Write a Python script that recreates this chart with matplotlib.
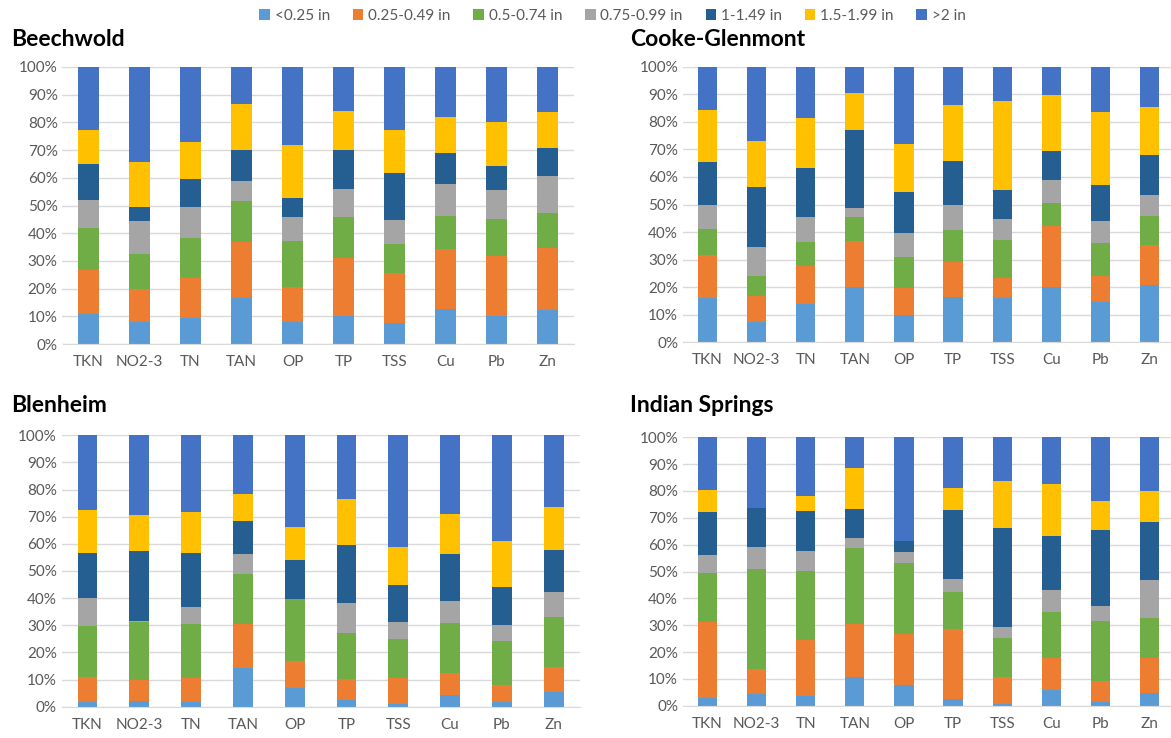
import numpy as np
import matplotlib
matplotlib.use('Agg')
import matplotlib.pyplot as plt
from matplotlib.ticker import PercentFormatter

plt.rcParams['font.family'] = ['Lato', 'DejaVu Sans']

params = ['TKN', 'NO2-3', 'TN', 'TAN', 'OP', 'TP', 'TSS', 'Cu', 'Pb', 'Zn']
bins = ['<0.25 in', '0.25-0.49 in', '0.5-0.74 in', '0.75-0.99 in',
        '1-1.49 in', '1.5-1.99 in', '>2 in']
colors = ['#5B9BD5', '#ED7D31', '#70AD47', '#A5A5A5', '#255E91', '#FFC000', '#4472C4']

# percent of load per rainfall bin, one row per parameter
beechwold = [
    [10.8, 15.8, 15.3, 10.2, 13.0, 12.1, 22.8],
    [8.0, 11.8, 12.6, 12.1, 5.0, 16.3, 34.2],
    [9.5, 14.5, 14.4, 10.9, 10.4, 13.3, 27.0],
    [16.7, 20.2, 14.8, 7.2, 11.1, 16.7, 13.3],
    [8.0, 12.6, 16.7, 8.7, 6.8, 19.1, 28.1],
    [10.0, 21.2, 14.8, 9.8, 14.2, 14.0, 16.0],
    [7.7, 17.8, 10.6, 8.8, 17.0, 15.3, 22.8],
    [12.5, 21.7, 12.1, 11.4, 11.1, 13.3, 17.9],
    [10.2, 21.7, 13.4, 10.2, 8.7, 16.0, 19.8],
    [12.2, 22.5, 12.5, 13.5, 10.0, 13.0, 16.3],
]
cooke_glenmont = [
    [16.1, 15.5, 9.5, 8.7, 15.7, 18.8, 15.7],
    [7.4, 9.5, 7.3, 10.3, 21.8, 16.8, 26.9],
    [13.9, 13.8, 8.7, 9.2, 17.5, 18.2, 18.7],
    [20.1, 16.8, 8.7, 3.3, 28.1, 13.4, 9.6],
    [9.8, 10.0, 11.2, 8.8, 14.6, 17.6, 28.0],
    [16.4, 12.6, 11.8, 8.9, 16.1, 20.3, 13.9],
    [15.9, 7.5, 13.6, 7.6, 10.7, 32.3, 12.4],
    [19.9, 22.3, 8.5, 8.1, 10.6, 20.2, 10.4],
    [14.8, 9.2, 12.2, 7.8, 13.0, 26.5, 16.5],
    [20.8, 14.6, 10.3, 7.6, 14.8, 17.4, 14.5],
]
blenheim = [
    [1.7, 9.4, 18.6, 10.5, 16.3, 16.0, 27.5],
    [2.1, 7.7, 21.4, 0.3, 25.7, 13.4, 29.4],
    [1.7, 8.9, 19.9, 6.2, 19.8, 15.1, 28.4],
    [14.3, 16.2, 18.3, 7.3, 12.5, 9.7, 21.7],
    [6.8, 10.2, 22.5, 0.3, 14.4, 12.1, 33.7],
    [2.3, 7.9, 17.1, 10.8, 21.5, 17.1, 23.3],
    [0.9, 9.7, 14.5, 6.1, 13.6, 14.0, 41.2],
    [4.4, 8.1, 18.3, 8.1, 17.2, 14.8, 29.1],
    [1.6, 6.4, 16.2, 5.9, 14.0, 17.1, 38.8],
    [5.3, 9.3, 18.4, 9.1, 15.5, 16.0, 26.4],
]
indian_springs = [
    [2.7, 28.5, 18.4, 6.7, 15.7, 8.2, 19.8],
    [4.5, 9.0, 37.3, 8.3, 14.6, 0.0, 26.3],
    [3.6, 20.9, 25.6, 7.4, 15.0, 5.5, 22.0],
    [10.8, 19.5, 28.5, 3.8, 10.7, 15.3, 11.4],
    [7.8, 19.0, 26.4, 3.9, 4.3, 0.0, 38.6],
    [2.6, 25.8, 13.8, 5.0, 25.7, 8.3, 18.8],
    [0.7, 9.9, 14.6, 4.3, 36.6, 17.8, 16.1],
    [5.7, 12.0, 17.3, 8.0, 20.4, 19.3, 17.3],
    [1.5, 7.8, 22.2, 5.5, 28.4, 10.9, 23.7],
    [4.7, 13.0, 14.9, 14.2, 21.7, 11.5, 20.0],
]

W, H = 1171, 738
fig = plt.figure(figsize=(W / 100, H / 100), dpi=100)

# pixel boxes: left, right, y of 0%, y of 100%
panels = [
    ('Beechwold', beechwold, (62.5, 573.5, 344, 67), (11, 40), 0.41),
    ('Cooke-Glenmont', cooke_glenmont, (683, 1171, 342.3, 66.7), (630, 40), 0.39),
    ('Blenheim', blenheim, (61.6, 579.6, 706.7, 435.3), (11, 405), 0.38),
    ('Indian Springs', indian_springs, (683, 1171, 705.7, 437.3), (630, 405), 0.39),
]

x = np.arange(len(params))
for title, data, box, tpos, bw in panels:
    l, r, y0, y1 = box
    ax = fig.add_axes([l / W, (H - y0) / H, (r - l) / W, (y0 - y1) / H])
    vals = np.array(data).T
    bottom = np.zeros(len(params))
    for i in range(len(bins)):
        ax.bar(x, vals[i], bw, bottom=bottom, color=colors[i], label=bins[i], linewidth=0)
        bottom += vals[i]
    ax.set_ylim(0, 100)
    xr = 9.5 if r < 1171 else -0.5 + 10 * (r - l) / 491
    ax.set_xlim(-0.5, xr)
    ax.set_yticks(np.arange(0, 101, 10))
    ax.yaxis.set_major_formatter(PercentFormatter(decimals=0))
    ax.set_xticks(x)
    ax.set_xticklabels(params)
    ax.grid(axis='y', color='#d9d9d9', linewidth=1)
    ax.set_axisbelow(True)
    for s in ['top', 'right', 'left']:
        ax.spines[s].set_visible(False)
    ax.spines['bottom'].set_color('#d9d9d9')
    ax.tick_params(length=0, labelsize=11, labelcolor='#595959')
    ax.tick_params(axis='x', pad=8)
    fig.text(tpos[0] / W, 1 - tpos[1] / H, title, fontsize=16.5, fontweight='bold',
             va='center', ha='left')

handles, labels = fig.axes[0].get_legend_handles_labels()
fig.legend(handles, labels, loc='center', bbox_to_anchor=(0.523, 1 - 16 / H), ncol=7,
           frameon=False, fontsize=11, handlelength=0.7, handleheight=0.7,
           handletextpad=0.3, columnspacing=1.5, labelcolor='#595959')

fig.savefig('out.png', dpi=100)
